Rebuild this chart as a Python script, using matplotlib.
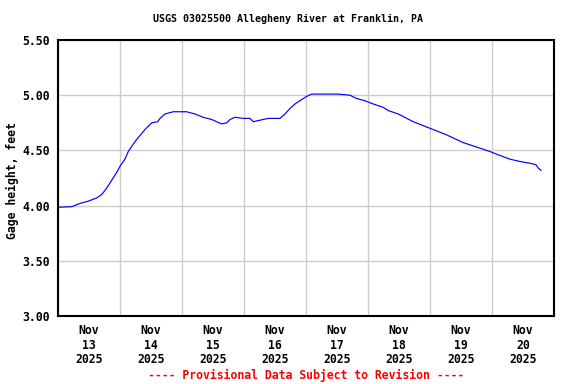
import matplotlib
matplotlib.use("Agg")
import matplotlib.pyplot as plt
import numpy as np
from matplotlib.ticker import FixedLocator, NullFormatter, FixedFormatter

# hours since Nov 13 2025 00:00 and gage height (feet)
hours = [0.1, 5.3, 8.5, 11.7, 15.0, 16.9, 18.9, 20.8, 22.7, 24.1, 25.9, 27.2,
         29.8, 33.7, 36.3, 38.6, 39.5, 41.4, 44.6, 49.8, 53.0, 56.2, 59.5,
         61.4, 63.4, 65.3, 66.6, 68.5, 71.7, 74.3, 75.6, 77.5, 81.4, 85.9,
         87.9, 89.8, 91.7, 94.3, 96.3, 98.2, 102.1, 108.5, 113.0, 115.6,
         118.8, 122.1, 125.9, 127.9, 131.7, 137.5, 144.0, 150.5, 156.9,
         159.5, 163.4, 167.2, 170.4, 175.0, 178.8, 183.4, 185.0, 185.9, 187.0]
gage = [3.985, 3.99, 4.02, 4.04, 4.07, 4.10, 4.16, 4.23, 4.30, 4.36, 4.42, 4.49,
        4.58, 4.69, 4.75, 4.76, 4.79, 4.83, 4.85, 4.85, 4.83, 4.80, 4.78,
        4.76, 4.74, 4.75, 4.78, 4.80, 4.79, 4.79, 4.76, 4.77, 4.79, 4.79,
        4.83, 4.88, 4.92, 4.96, 4.99, 5.01, 5.01, 5.01, 5.00, 4.97,
        4.95, 4.92, 4.89, 4.86, 4.83, 4.76, 4.70, 4.64, 4.57,
        4.55, 4.52, 4.49, 4.46, 4.42, 4.40, 4.38, 4.37, 4.34, 4.32]
day_labels = ["Nov\n13\n2025", "Nov\n14\n2025", "Nov\n15\n2025", "Nov\n16\n2025",
              "Nov\n17\n2025", "Nov\n18\n2025", "Nov\n19\n2025", "Nov\n20\n2025"]
y_ticks = [3.00, 3.50, 4.00, 4.50, 5.00, 5.50]

mono = "DejaVu Sans Mono"
fig = plt.figure(figsize=(5.76, 3.84), dpi=100)
ax = fig.add_axes([58/576, 1-316/384, (554-58)/576, (316-40)/384])

ax.plot(np.array(hours)/24.0, gage, color="#0000ff", lw=0.85)

ax.set_xlim(0, 8)
ax.set_ylim(3.0, 5.5)
ax.xaxis.set_major_locator(FixedLocator(np.arange(0, 9)))
ax.xaxis.set_major_formatter(NullFormatter())
ax.xaxis.set_minor_locator(FixedLocator(np.arange(8) + 0.5))
ax.xaxis.set_minor_formatter(FixedFormatter(day_labels))
ax.set_yticks(y_ticks)
ax.set_yticklabels([f"{v:.2f}" for v in y_ticks])
ax.tick_params(axis="both", which="both", length=0)
ax.tick_params(axis="x", which="minor", pad=6)
ax.tick_params(axis="y", pad=6)
for lab in ax.get_xticklabels(minor=True) + ax.get_yticklabels():
    lab.set_fontfamily(mono)
    lab.set_fontweight("bold")
    lab.set_fontsize(8.3)
for lab in ax.get_xticklabels(minor=True):
    lab.set_linespacing(1.15)

ax.grid(True, which="major", color="#cccccc", lw=1.0)
ax.set_axisbelow(True)
for s in ax.spines.values():
    s.set_linewidth(1.5)
    s.set_color("black")

ax.set_ylabel("Gage height, feet", fontfamily=mono, fontweight="bold",
              fontsize=8.3)
ax.yaxis.set_label_coords(-0.078, 0.49)

fig.text(0.5, 1-19/384, "USGS 03025500 Allegheny River at Franklin, PA",
         ha="center", va="center", fontfamily=mono, fontweight="bold", fontsize=7.2)
fig.text(306/576, 1-375/384, "---- Provisional Data Subject to Revision ----",
         ha="center", va="center", fontfamily=mono, fontweight="bold",
         fontsize=8.3, color="#ff0000")

fig.savefig("out.png", dpi=100)
